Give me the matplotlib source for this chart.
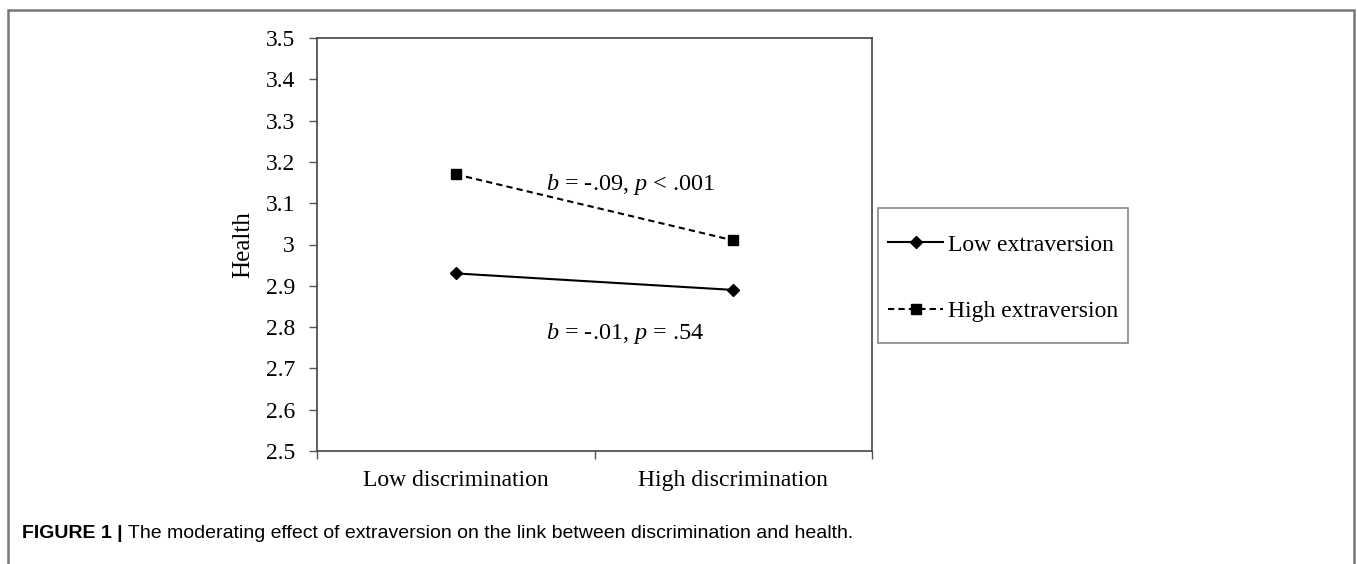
import matplotlib
matplotlib.use('Agg')
import matplotlib.pyplot as plt
from matplotlib.patches import Rectangle

plt.rcParams['font.family'] = ['Liberation Serif', 'DejaVu Serif']
plt.rcParams['mathtext.fontset'] = 'custom'
plt.rcParams['mathtext.it'] = 'Liberation Serif:italic'
plt.rcParams['mathtext.rm'] = 'Liberation Serif'

categories = ['Low discrimination', 'High discrimination']
low_extraversion = [2.93, 2.89]
high_extraversion = [3.17, 3.01]
yticks = [2.5, 2.6, 2.7, 2.8, 2.9, 3.0, 3.1, 3.2, 3.3, 3.4, 3.5]
ytick_labels = ['2.5', '2.6', '2.7', '2.8', '2.9', '3', '3.1', '3.2', '3.3', '3.4', '3.5']
note_high = '$b$ = -.09, $p$ < .001'
note_low = '$b$ = -.01, $p$ = .54'
caption_bold = 'FIGURE 1 |'
caption = 'The moderating effect of extraversion on the link between discrimination and health.'

fig = plt.figure(figsize=(13.57, 5.64), dpi=100)
ax = fig.add_axes([317/1357, 113/564, 555/1357, 413/564])

xs = range(len(categories))
ax.plot(xs, low_extraversion, color='black', lw=1.5, marker='D', ms=6,
        label='Low extraversion')
ax.plot(xs, high_extraversion, color='black', lw=1.5, dashes=(3, 2), marker='s',
        ms=7, label='High extraversion')

ax.set_xlim(-0.5, 1.5)
ax.set_ylim(2.5, 3.5)
ax.set_yticks(yticks)
ax.set_yticklabels(ytick_labels, fontsize=17)
ax.set_xticks([-0.5, 0.5, 1.5])
ax.set_xticklabels([])
ax.set_xticks(list(xs), minor=True)
ax.set_xticklabels(categories, minor=True, fontsize=17)
ax.tick_params(axis='x', which='minor', length=0, pad=14)
ax.tick_params(axis='both', which='major', length=6, width=1, color='#555555')
ax.tick_params(axis='y', pad=10)
for s in ax.spines.values():
    s.set_color('#444444')
    s.set_linewidth(1.2)

ax.set_ylabel('Health', fontsize=18, labelpad=8)

ax.text(0.63, 3.145, note_high, fontsize=17.5, ha='center', va='center')
ax.text(0.61, 2.785, note_low, fontsize=17.5, ha='center', va='center')

# legend box drawn separately so the padding can match the original
fig.patches.append(Rectangle((878/1357, 1 - 343/564), 250/1357, 135/564,
                             transform=fig.transFigure, fill=False,
                             edgecolor='#888888', lw=1.2))
leg = ax.legend(loc='center left', bbox_to_anchor=(888/1357, 1 - 278/564),
                bbox_transform=fig.transFigure, fontsize=17, frameon=False,
                numpoints=1, handlelength=2.35, labelspacing=1.9,
                borderpad=0, handletextpad=0.2, borderaxespad=0)

fig.patches.append(Rectangle((8/1357, -0.05), 1346/1357, 1.05 - 10/564,
                             transform=fig.transFigure, fill=False,
                             edgecolor='#777777', lw=1.8))

bold_txt = fig.text(22/1357, 1 - 533/564, caption_bold, fontsize=14,
                    fontweight='bold', family='Liberation Sans', va='center')
ax.annotate(caption, xy=(1, 0.5), xycoords=bold_txt, xytext=(4, 0),
            textcoords='offset points', fontsize=14, family='Liberation Sans',
            va='center', annotation_clip=False)

fig.savefig('out.png', dpi=100)
